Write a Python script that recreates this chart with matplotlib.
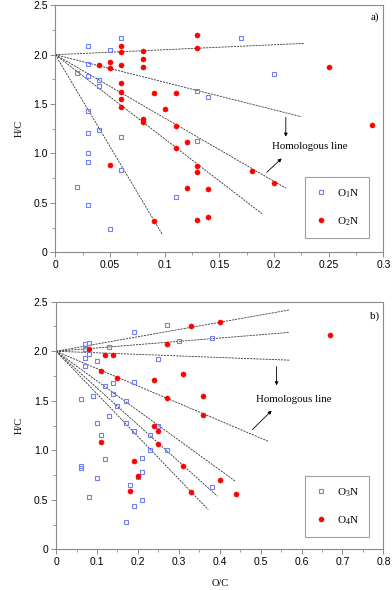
import matplotlib
matplotlib.use("Agg")
import matplotlib.pyplot as plt
from matplotlib.ticker import MultipleLocator

plt.rcParams['mathtext.default'] = 'regular'

# ---------------- Panel a data ----------------
a_o1n_x = [0.03, 0.06, 0.05, 0.03, 0.02, 0.03, 0.04, 0.04, 0.03, 0.03, 0.04, 0.06,
           0.17, 0.20, 0.13, 0.14, 0.13, 0.03, 0.03, 0.02, 0.03, 0.05, 0.06, 0.11]
a_o1n_y = [2.09, 2.17, 2.05, 1.91, 1.81, 1.78, 1.74, 1.68, 1.43, 1.21, 1.24, 1.17,
           2.17, 1.80, 1.63, 1.57, 1.13, 1.00, 0.91, 0.66, 0.48, 0.24, 0.83, 0.56]
a_o2n_x = [0.13, 0.13, 0.06, 0.06, 0.08, 0.08, 0.08, 0.04, 0.05, 0.05, 0.06, 0.06,
           0.06, 0.06, 0.06, 0.08, 0.08, 0.09, 0.11, 0.10, 0.11, 0.12, 0.11, 0.25,
           0.29, 0.05, 0.09, 0.13, 0.13, 0.12, 0.14, 0.13, 0.14, 0.18, 0.20]
a_o2n_y = [2.20, 2.07, 2.09, 2.03, 2.04, 1.96, 1.88, 1.90, 1.93, 1.87, 1.90, 1.71,
           1.62, 1.55, 1.47, 1.35, 1.32, 1.61, 1.61, 1.45, 1.28, 1.12, 1.06, 1.88,
           1.29, 0.88, 0.32, 0.87, 0.81, 0.65, 0.64, 0.33, 0.36, 0.82, 0.70]
a_line_x0 = 0.0
a_line_y0 = 2.0
a_line_end_x = [0.228, 0.225, 0.211, 0.189, 0.098]
a_line_end_y = [2.115, 1.372, 0.648, 0.390, 0.178]
a_xticks = [0, 0.05, 0.1, 0.15, 0.2, 0.25, 0.3]
a_xlabels = ['0', '0.05', '0.1', '0.15', '0.2', '0.25', '0.3']

# ---------------- Panel b data ----------------
b_o3n_x = [0.27, 0.19, 0.08, 0.07, 0.07, 0.08, 0.13, 0.07, 0.07, 0.10, 0.25, 0.30,
           0.38, 0.06, 0.09, 0.12, 0.14, 0.19, 0.14, 0.17, 0.15, 0.13, 0.10, 0.17,
           0.25, 0.19, 0.23, 0.11, 0.23, 0.27, 0.12, 0.06, 0.06, 0.21, 0.21, 0.20,
           0.10, 0.18, 0.08, 0.21, 0.19, 0.17, 0.38]
b_o3n_y = [2.27, 2.19, 2.085, 2.07, 2.02, 1.975, 2.04, 1.93, 1.85, 1.90, 1.92, 2.10,
           2.13, 1.52, 1.55, 1.65, 1.68, 1.69, 1.57, 1.50, 1.45, 1.35, 1.28, 1.28,
           1.25, 1.19, 1.15, 1.15, 1.00, 1.00, 0.91, 0.84, 0.82, 0.92, 0.785, 0.725,
           0.715, 0.645, 0.527, 0.496, 0.436, 0.275, 0.624]
b_o4n_x = [0.08, 0.12, 0.14, 0.27, 0.33, 0.40, 0.67, 0.11, 0.15, 0.24, 0.31, 0.27,
           0.36, 0.36, 0.24, 0.25, 0.25, 0.11, 0.31, 0.19, 0.20, 0.18, 0.33, 0.40, 0.44]
b_o4n_y = [2.02, 1.967, 1.967, 2.07, 2.25, 2.296, 2.168, 1.80, 1.73, 1.71, 1.77, 1.53,
           1.547, 1.355, 1.24, 1.19, 1.06, 1.08, 0.846, 0.896, 0.745, 0.587, 0.577,
           0.695, 0.557]
b_line_x0 = 0.0
b_line_y0 = 2.0
b_line_end_x = [0.570, 0.570, 0.570, 0.519, 0.439, 0.394, 0.372]
b_line_end_y = [2.417, 2.19, 1.91, 1.09, 0.685, 0.537, 0.40]
b_xticks = [0, 0.1, 0.2, 0.3, 0.4, 0.5, 0.6, 0.7, 0.8]
b_xlabels = ['0', '0.1', '0.2', '0.3', '0.4', '0.5', '0.6', '0.7', '0.8']

yticks = [0, 0.5, 1.0, 1.5, 2.0, 2.5]
ylabels = ['0', '0.5', '1.0', '1.5', '2.0', '2.5']

BLUE = '#6f80f5'
RED = '#ff0000'
GRAY = '#8a8a8a'
SERIF = ['Liberation Serif', 'DejaVu Serif']
SANS = ['Liberation Sans', 'DejaVu Sans']

fig = plt.figure(figsize=(3.92, 5.90), dpi=100)
ax_a = fig.add_axes([0.141, 0.5724, 0.837, 0.4186])
ax_b = fig.add_axes([0.143, 0.069, 0.835, 0.4196])


def style(ax, xmax, xmajor, xticks, xlabels):
    ax.set_xlim(0, xmax)
    ax.set_ylim(0, 2.5)
    ax.set_xticks(xticks)
    ax.set_xticklabels(xlabels, family=SANS, fontsize=7.5)
    ax.set_yticks(yticks)
    ax.set_yticklabels(ylabels, family=SANS, fontsize=7.5)
    ax.xaxis.set_minor_locator(MultipleLocator(xmajor / 2))
    ax.yaxis.set_minor_locator(MultipleLocator(0.25))
    for s in ax.spines.values():
        s.set_color(GRAY)
        s.set_linewidth(0.8)
    ax.tick_params(which='major', direction='out', length=3.5, width=0.7, color=GRAY, pad=2)
    ax.tick_params(which='minor', direction='out', length=2, width=0.6, color=GRAY)
    ax.set_ylabel('H/C', family=SERIF, fontsize=7.5, labelpad=7)


def draw_lines(ax, x0, y0, ex, ey):
    for xe, ye in zip(ex, ey):
        ax.plot([x0, xe], [y0, ye], color='#333333', lw=0.6,
                linestyle=(0, (2.5, 1.2)), zorder=2)


# ---------- Panel a ----------
style(ax_a, 0.3, 0.05, a_xticks, a_xlabels)
draw_lines(ax_a, a_line_x0, a_line_y0, a_line_end_x, a_line_end_y)
ax_a.plot(a_o1n_x, a_o1n_y, linestyle='none', marker='s', markersize=3.3,
          markerfacecolor='none', markeredgecolor=BLUE, markeredgewidth=0.8,
          label='O$_1$N', zorder=3)
ax_a.plot(a_o2n_x, a_o2n_y, linestyle='none', marker='o', markersize=3.7,
          markerfacecolor=RED, markeredgecolor=RED, markeredgewidth=0.3,
          label='O$_2$N', zorder=3)
ax_a.annotate('', xy=(0.2108, 1.17), xytext=(0.2108, 1.366),
              arrowprops=dict(arrowstyle='-|>', color='black', lw=0.6,
                              mutation_scale=5, shrinkA=0, shrinkB=0))
ax_a.annotate('', xy=(0.207, 0.95), xytext=(0.1934, 0.81),
              arrowprops=dict(arrowstyle='-|>', color='black', lw=0.6,
                              mutation_scale=5, shrinkA=0, shrinkB=0))
ax_a.text(0.233, 1.07, 'Homologous line', family=SERIF, fontsize=7.8,
          ha='center', va='center')
ax_a.text(0.292, 2.38, 'a)', family=SERIF, fontsize=8, ha='center', va='center')
leg = ax_a.legend(loc='lower right', bbox_to_anchor=(0.957, 0.057), borderaxespad=0,
                  prop={'family': SERIF, 'size': 8}, frameon=True, fancybox=False,
                  edgecolor=GRAY, handlelength=1.0, handletextpad=0.9,
                  labelspacing=1.4, borderpad=0.95, markerscale=1.0)
leg.get_frame().set_linewidth(0.8)

# ---------- Panel b ----------
style(ax_b, 0.8, 0.1, b_xticks, b_xlabels)
draw_lines(ax_b, b_line_x0, b_line_y0, b_line_end_x, b_line_end_y)
ax_b.plot(b_o3n_x, b_o3n_y, linestyle='none', marker='s', markersize=3.3,
          markerfacecolor='none', markeredgecolor=BLUE, markeredgewidth=0.8,
          label='O$_3$N', zorder=3)
ax_b.plot(b_o4n_x, b_o4n_y, linestyle='none', marker='o', markersize=3.7,
          markerfacecolor=RED, markeredgecolor=RED, markeredgewidth=0.3,
          label='O$_4$N', zorder=3)
ax_b.annotate('', xy=(0.539, 1.655), xytext=(0.539, 1.846),
              arrowprops=dict(arrowstyle='-|>', color='black', lw=0.6,
                              mutation_scale=5, shrinkA=0, shrinkB=0))
ax_b.annotate('', xy=(0.527, 1.40), xytext=(0.48, 1.21),
              arrowprops=dict(arrowstyle='-|>', color='black', lw=0.6,
                              mutation_scale=5, shrinkA=0, shrinkB=0))
ax_b.text(0.58, 1.51, 'Homologous line', family=SERIF, fontsize=7.8,
          ha='center', va='center')
ax_b.text(0.778, 2.35, 'b)', family=SERIF, fontsize=8, ha='center', va='center')
ax_b.set_xlabel('O/C', family=SERIF, fontsize=7.5, labelpad=9)
leg = ax_b.legend(loc='lower right', bbox_to_anchor=(0.957, 0.048), borderaxespad=0,
                  prop={'family': SERIF, 'size': 8}, frameon=True, fancybox=False,
                  edgecolor=GRAY, handlelength=1.0, handletextpad=0.9,
                  labelspacing=1.4, borderpad=0.95, markerscale=1.0)
leg.get_frame().set_linewidth(0.8)

fig.savefig('out.png', dpi=100)
